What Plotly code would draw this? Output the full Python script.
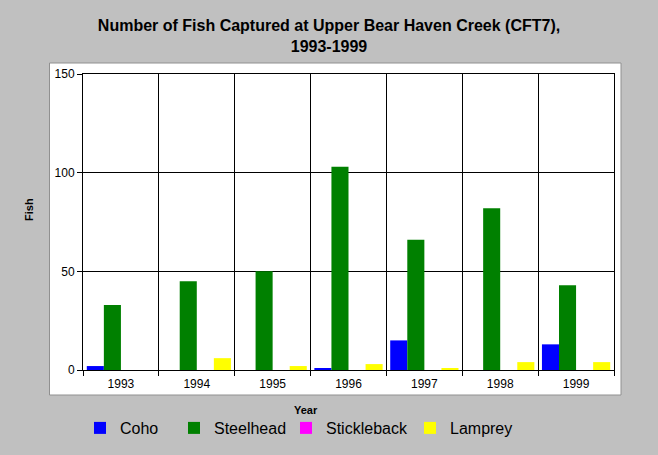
import plotly.graph_objects as go

years = ["1993", "1994", "1995", "1996", "1997", "1998", "1999"]
coho = [2, 0, 0, 1, 15, 0, 13]
steelhead = [33, 45, 50, 103, 66, 82, 43]
stickleback = [0, 0, 0, 0, 0, 0, 0]
lamprey = [0, 6, 2, 3, 1, 4, 4]

series = [
    ("Coho", coho, "#0000FF", "legend", 80),
    ("Steelhead", steelhead, "#008000", "legend2", 174),
    ("Stickleback", stickleback, "#FF00FF", "legend3", 286),
    ("Lamprey", lamprey, "#FFFF00", "legend4", 410),
]

W, H = 658, 455
ml, mr, mt, mb = 83, 44, 74, 85
pw, ph = W - ml - mr, H - mt - mb

fig = go.Figure()
for name, vals, color, lg, lx in series:
    fig.add_trace(go.Bar(x=years, y=vals, name=name, legend=lg,
                         marker=dict(color=color, line=dict(width=0))))

def px_x(x):
    return (x - ml) / pw

def px_y(y):
    return (H - mb - y) / ph

font = "Liberation Sans, Arial, sans-serif"
legend_common = dict(orientation="h", xref="container", yref="container",
                     yanchor="middle", bgcolor="rgba(0,0,0,0)",
                     font=dict(family=font, size=16, color="black"))
layout_legends = {}
for name, vals, color, lg, lx in series:
    layout_legends[lg] = dict(legend_common, x=lx / W, xanchor="left", y=1 - 428 / H)

fig.update_layout(
    width=W, height=H,
    margin=dict(l=ml, r=mr, t=mt, b=mb, autoexpand=False),
    paper_bgcolor="#C0C0C0",
    plot_bgcolor="white",
    barmode="group", bargap=0.1, bargroupgap=0,
    title=dict(text="Number of Fish Captured at Upper Bear Haven Creek (CFT7),<br>1993-1999",
               x=0.5, xanchor="center", y=1 - 31 / H, yanchor="middle",
               font=dict(family=font, size=16, color="black", weight="bold")),
    showlegend=True,
    xaxis=dict(type="category", tickson="boundaries", ticks="outside", ticklen=5,
               tickcolor="black", showgrid=True, gridcolor="black", gridwidth=1,
               showline=True, linecolor="black", linewidth=1, mirror=True,
               automargin=False, ticklabelstandoff=3,
               tickfont=dict(family=font, size=12, color="black")),
    yaxis=dict(range=[0, 150], tickvals=[0, 50, 100, 150], ticks="outside", ticklen=5,
               tickcolor="black", showgrid=True, gridcolor="black", gridwidth=1,
               showline=True, linecolor="black", linewidth=1, mirror=True,
               zeroline=False, automargin=False,
               tickfont=dict(family=font, size=12, color="black")),
    annotations=[
        dict(text="Year", xref="paper", yref="paper", x=px_x(306), y=px_y(410),
             xanchor="center", yanchor="middle", showarrow=False,
             font=dict(family=font, size=11, color="black", weight="bold")),
        dict(text="Fish", xref="paper", yref="paper", x=px_x(29), y=px_y(210),
             xanchor="center", yanchor="middle", showarrow=False, textangle=-90,
             font=dict(family=font, size=11, color="black", weight="bold")),
    ],
    shapes=[dict(type="rect", xref="paper", yref="paper", layer="below",
                 x0=px_x(49.5), x1=px_x(621), y0=px_y(395), y1=px_y(63),
                 fillcolor="white", line=dict(color="#909090", width=1))],
    **layout_legends,
)

fig.write_html("out.html", config={"displayModeBar": False},
               post_script="document.body.style.margin='0';")
